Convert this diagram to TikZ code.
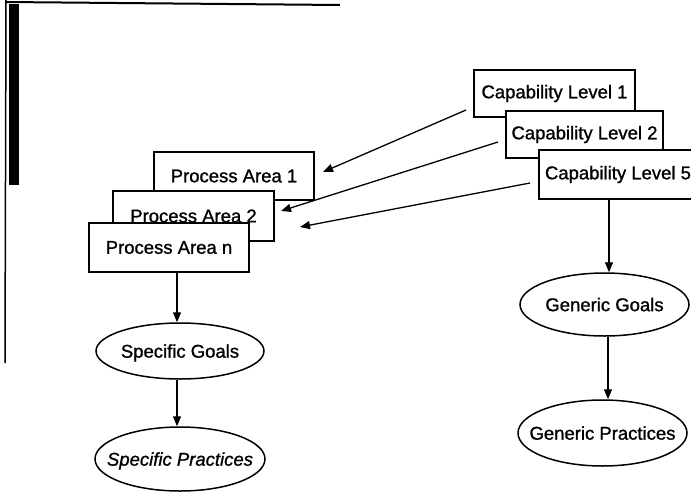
\documentclass[tikz,border=0pt]{standalone}
\usepackage{fontspec}
\setmainfont{Liberation Sans}[BoldFont=Liberation Sans,BoldFeatures={FakeBold=1.1},
  BoldItalicFont=Liberation Sans Italic,BoldItalicFeatures={FakeBold=1.1}]
\usetikzlibrary{arrows.meta,shapes.geometric}
% text centred on the node's reference point without widening the shape
\newcommand\ovaltext[1]{\makebox[0pt]{\raisebox{-0.36em}[0pt][0pt]{#1}}}
\begin{document}
\begin{tikzpicture}[x=1pt,y=-1pt,
  labelfont/.style={font=\fontsize{18.5}{20}\selectfont\bfseries},
  box/.style={draw,fill=white,line width=1.6pt,inner sep=0pt,labelfont},
  oval/.style={draw,fill=white,ellipse,line width=1.5pt,inner sep=0pt,labelfont},
  arr/.style={-{Triangle[width=8pt,length=10pt]},line width=1.3pt}]
\clip (0,0) rectangle (691,493);
\fill[white] (0,0) rectangle (691,493);

% page edge marks
\draw[line width=2pt] (6,2) -- (340,5);
\fill (9,4) rectangle (19,185);
\draw[line width=1.5pt] (6,0) -- (5,363);

% process areas (stacked)
\node[box,minimum width=160pt,minimum height=48pt] (PA1) at (234,176) {Process Area 1};
\node[box,minimum width=161pt,minimum height=50pt] (PA2) at (193.5,216) {Process Area 2};
\node[box,minimum width=160pt,minimum height=49pt] (PAn) at (169,247.5) {Process Area n};

% capability levels (stacked)
\node[box,minimum width=161pt,minimum height=47pt] (CL1) at (554.5,93.5) {Capability Level 1};
\node[box,minimum width=157pt,minimum height=47pt] (CL2) at (584.5,134.5) {Capability Level 2};
\node[box,minimum width=158pt,minimum height=49pt] (CL5) at (618,174.5) {Capability Level 5};

% goals and practices
\node[oval,minimum width=168pt,minimum height=56pt] (SG) at (180,351) {\ovaltext{Specific Goals}};
\node[oval,minimum width=170pt,minimum height=64pt] (SP) at (180,459) {\ovaltext{\itshape Specific Practices}};
\node[oval,minimum width=169pt,minimum height=63pt] (GG) at (604.5,304.5) {\ovaltext{Generic Goals}};
\node[oval,minimum width=169pt,minimum height=66pt] (GP) at (602.5,433) {\ovaltext{Generic Practices}};

% links from capability levels to process areas
\coordinate (a1) at (466,110); \coordinate (b1) at (323,172);
\coordinate (a2) at (498,142); \coordinate (b2) at (281,211);
\coordinate (a3) at (530,183); \coordinate (b3) at (300,227);
\draw[arr] (a1) -- (b1);
\draw[arr] (a2) -- (b2);
\draw[arr] (a3) -- (b3);

% vertical flows
\draw[arr] ([xshift=-3pt]SG.north |- PAn.south) -- ([xshift=-3pt]SG.north);
\draw[arr] ([xshift=-3pt]SG.south) -- ([xshift=-3pt]SP.north);
\draw[arr] ([xshift=4.5pt]GG.north |- CL5.south) -- ([xshift=4.5pt]GG.north);
\draw[arr] ([xshift=5.5pt]GP.north |- GG.south) -- ([xshift=5.5pt]GP.north);
\end{tikzpicture}
\end{document}
